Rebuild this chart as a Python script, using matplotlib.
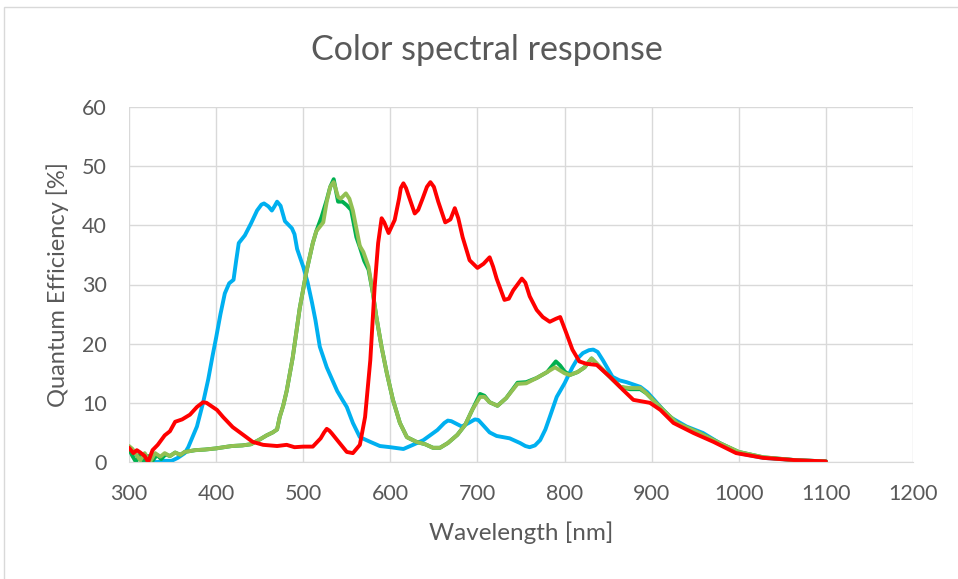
import matplotlib
matplotlib.use("Agg")
import matplotlib.pyplot as plt
from matplotlib.patches import Rectangle

# Wavelength [nm] / quantum efficiency [%]
blue_wl = [300, 305, 310, 315, 320, 325, 333, 340, 349, 356, 364, 368, 372, 378, 385, 391, 396, 400,
           405, 410, 415, 420, 423, 426, 433, 440, 447, 452, 455, 460, 464, 467, 470, 474, 479, 487, 490, 493,
           500, 505, 510, 514, 519, 527, 533, 539, 545, 550, 557, 565, 577, 588, 600, 615, 626, 638,
           654, 662, 666, 670, 674, 682, 690, 697, 701, 706, 714, 722, 737, 749, 755, 760, 766, 772, 778, 783, 791, 800, 809,
           815, 821, 828, 833, 838, 844, 855, 863, 871, 887, 895, 903, 912, 921, 940, 959, 978, 1000,
           1028, 1066, 1100]
blue_qe = [2.0, 1.5, 1.0, 1.2, 0.5, 0.0, 0.0, 0.2, 0.2, 0.7, 1.5, 2.5, 3.9, 6.0, 10.0, 14.0, 18.0, 21.0,
           25.0, 28.5, 30.2, 30.8, 34.0, 37.0, 38.3, 40.3, 42.5, 43.5, 43.7, 43.2, 42.5, 43.2, 44.0, 43.3, 40.7, 39.5, 38.5, 36.0,
           33.0, 30.4, 27.0, 24.0, 19.5, 16.0, 14.0, 12.0, 10.5, 9.3, 6.6, 4.2, 3.4, 2.7, 2.5, 2.2, 2.9, 3.7,
           5.4, 6.6, 7.0, 6.9, 6.6, 6.0, 6.6, 7.2, 7.1, 6.3, 5.0, 4.4, 4.0, 3.2, 2.7, 2.5, 2.8, 3.7, 5.5, 7.6, 11.0, 13.3, 16.0,
           17.5, 18.4, 18.9, 19.0, 18.6, 17.2, 14.4, 13.8, 13.5, 12.7, 11.8, 10.5, 9.0, 7.6, 6.0, 4.9, 3.2, 1.5,
           0.7, 0.3, 0.1]

green1_wl = [300, 304, 308, 312, 317, 322, 326, 332, 337, 342, 347, 353, 359, 364, 376, 387, 400, 418,
             430, 440, 450, 458, 465, 470, 473, 477, 481, 488, 496, 504, 511, 515, 521, 527, 531, 535,
             540, 545, 550, 555, 561, 565, 570, 575, 580, 584, 590, 596, 603, 611, 619, 630, 640, 649,
             657, 666, 677, 686, 694, 703, 708, 714, 723, 733, 746, 756, 768, 780, 790, 795, 800, 806,
             815, 823, 831, 841, 852, 864, 875, 887, 894, 913, 929, 955, 978, 1000, 1028, 1066, 1100]
green1_qe = [2.2, 1.0, 0.0, 1.2, 0.0, 1.0, 0.0, 1.2, 0.5, 1.3, 1.0, 1.6, 1.2, 1.7, 2.0, 2.1, 2.3, 2.7,
             2.8, 3.0, 3.8, 4.5, 5.0, 5.5, 7.6, 9.5, 12.0, 17.7, 26.0, 32.4, 37.0, 39.0, 41.4, 44.3, 46.5, 47.8,
             44.0, 44.0, 43.4, 42.6, 38.0, 36.3, 34.0, 32.5, 28.5, 24.5, 19.4, 15.0, 10.5, 6.6, 4.2, 3.4, 3.0, 2.4,
             2.4, 3.2, 4.6, 6.3, 8.8, 11.5, 11.2, 10.1, 9.5, 10.8, 13.4, 13.5, 14.2, 15.2, 17.0, 16.3, 15.3, 14.7,
             15.2, 16.0, 17.5, 16.0, 14.4, 12.7, 12.3, 12.3, 11.6, 8.8, 6.6, 4.9, 3.2, 1.7, 0.8, 0.3, 0.1]

green2_wl = [300, 304, 307, 313, 318, 324, 330, 336, 341, 347, 353, 359, 364, 376, 387, 400, 418, 430,
             440, 450, 458, 465, 470, 473, 477, 481, 488, 496, 504, 511, 515, 523, 527, 531, 535, 540,
             543, 549, 553, 557, 561, 565, 569, 575, 580, 584, 590, 596, 603, 611, 619, 630, 640, 649,
             657, 666, 677, 686, 694, 703, 708, 714, 723, 733, 746, 756, 768, 780, 789, 800, 806, 815,
             823, 831, 841, 852, 864, 875, 887, 894, 913, 929, 955, 978, 1000, 1028, 1066, 1100]
green2_qe = [2.7, 2.2, 1.5, 0.3, 1.5, 0.0, 1.5, 0.9, 1.5, 1.0, 1.6, 1.2, 1.7, 2.0, 2.1, 2.3, 2.7, 2.8,
             3.0, 3.8, 4.5, 5.0, 5.5, 7.6, 9.5, 12.0, 17.7, 26.0, 32.4, 37.0, 39.0, 40.5, 44.0, 46.5, 47.3, 44.8,
             44.5, 45.4, 44.5, 42.5, 39.5, 36.5, 35.5, 33.0, 28.5, 24.5, 19.4, 15.0, 10.5, 6.6, 4.2, 3.4, 3.0, 2.4,
             2.4, 3.2, 4.6, 6.3, 8.8, 11.0, 11.0, 10.1, 9.5, 10.8, 13.2, 13.3, 14.2, 15.2, 16.0, 15.0, 14.7, 15.2,
             16.0, 17.5, 16.0, 14.4, 12.7, 12.5, 12.5, 11.6, 8.8, 6.6, 4.9, 3.2, 1.7, 0.8, 0.3, 0.1]

red_wl = [300, 305, 309, 313, 318, 322, 327, 333, 341, 347, 353, 361, 370, 378, 385, 389, 393, 401, 408,
          419, 431, 442, 454, 470, 481, 490, 500, 511, 520, 524, 527, 530, 533, 539, 550, 557, 565, 571, 577,
          582, 586, 590, 593, 598, 605, 610, 612, 615, 618, 621, 628, 632, 637, 642, 646, 650, 655, 663, 669, 674, 678, 683, 691,
          700, 707, 714, 718, 722, 731, 736, 741, 751, 755, 760, 768, 775, 783, 790, 795, 802, 809, 817, 825, 837, 852,
          867, 879, 898, 910, 925, 948, 971, 997, 1028, 1066, 1100]
red_qe = [2.4, 1.5, 2.0, 1.6, 1.0, 0.0, 2.0, 2.9, 4.5, 5.2, 6.8, 7.2, 8.0, 9.3, 10.1, 10.0, 9.6, 8.8, 7.6,
          5.9, 4.6, 3.4, 2.9, 2.7, 2.9, 2.5, 2.6, 2.6, 4.0, 5.0, 5.6, 5.3, 4.8, 3.7, 1.7, 1.5, 2.9, 7.6, 17.2,
          29.6, 37.0, 41.2, 40.5, 38.7, 40.9, 44.5, 46.3, 47.1, 46.3, 45.0, 42.0, 42.6, 44.5, 46.5, 47.3, 46.5, 44.0, 40.5, 41.0, 42.9, 41.2, 38.0, 34.1,
          32.8, 33.5, 34.6, 33.0, 31.0, 27.4, 27.6, 29.0, 31.0, 30.3, 28.0, 25.7, 24.5, 23.7, 24.2, 24.5, 21.8, 19.0, 17.0, 16.6, 16.4, 14.4,
          12.2, 10.5, 10.0, 8.8, 6.6, 4.9, 3.4, 1.5, 0.7, 0.3, 0.1]

x_ticks = [300, 400, 500, 600, 700, 800, 900, 1000, 1100, 1200]
y_ticks = [0, 10, 20, 30, 40, 50, 60]

text_col = '#595959'
grid_col = '#D9D9D9'
plt.rcParams['font.family'] = ['Lato', 'DejaVu Sans']

fig = plt.figure(figsize=(9.58, 5.79), dpi=100)
ax = fig.add_axes([129 / 958, 1 - 462 / 579, (913 - 129) / 958, (462 - 107) / 579])

# chart border like the Excel chart area
fig.patches.append(Rectangle((4 / 958, -0.1), 1.1, 1 - 7 / 579 + 0.1, transform=fig.transFigure,
                             fill=False, edgecolor=grid_col, linewidth=1.0))

lw = 2.8
style = dict(lw=lw, solid_joinstyle='round', solid_capstyle='round')
ax.plot(blue_wl, blue_qe, color='#00B0F0', **style)
ax.plot(green1_wl, green1_qe, color='#00B050', **style)
ax.plot(green2_wl, green2_qe, color='#92C053', **style)
ax.plot(red_wl, red_qe, color='#FF0000', **style)

ax.set_xlim(300, 1200)
ax.set_ylim(0, 60)
ax.set_xticks(x_ticks)
ax.set_yticks(y_ticks)
ax.grid(True, color=grid_col, linewidth=1.0)
ax.set_axisbelow(True)
for s in ['top', 'right', 'left']:
    ax.spines[s].set_visible(False)
ax.spines['bottom'].set_color(grid_col)
ax.tick_params(length=0, colors=text_col, labelsize=15.5, pad=16)

# title is centred on the chart area, not on the plot
fig.text(487 / 958, 1 - 50 / 579, 'Color spectral response', fontsize=24.5, color=text_col,
         ha='center', va='center')
ax.set_xlabel('Wavelength [nm]', fontsize=17.5, color=text_col, labelpad=12)
ax.set_ylabel('Quantum Efficiency [%]', fontsize=17, color=text_col, labelpad=9)

fig.savefig('out.png', dpi=100)
